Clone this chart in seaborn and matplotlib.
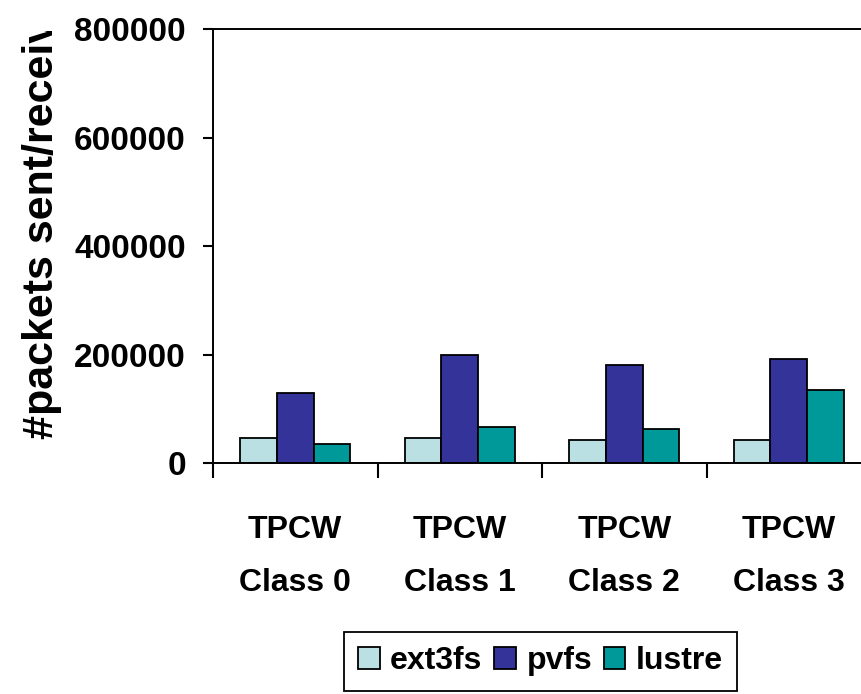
import matplotlib
matplotlib.use("Agg")
import matplotlib.pyplot as plt
from matplotlib.transforms import Bbox
import seaborn as sns
import pandas as pd

categories = ["TPCW\nClass 0", "TPCW\nClass 1", "TPCW\nClass 2", "TPCW\nClass 3"]
series_names = ["ext3fs", "pvfs", "lustre"]
ext3fs = [46000, 46000, 43500, 43500]
pvfs = [129000, 199000, 181500, 191500]
lustre = [35500, 66500, 62500, 135500]
yticks = [0, 200000, 400000, 600000, 800000]
ylabel = "#packets sent/received"
colors = ["#BBE0E3", "#333399", "#009999"]

rows = []
for name, vals in zip(series_names, [ext3fs, pvfs, lustre]):
    for c, v in zip(categories, vals):
        rows.append({"cls": c, "fs": name, "packets": v})
df = pd.DataFrame(rows)

sns.set_style("white")
plt.rcParams["font.family"] = ["Liberation Sans", "DejaVu Sans"]
plt.rcParams["font.weight"] = "bold"
plt.rcParams["text.color"] = "black"
plt.rcParams["xtick.color"] = "black"
plt.rcParams["ytick.color"] = "black"
plt.rcParams["axes.labelcolor"] = "black"

W, H = 861, 694
fig = plt.figure(figsize=(W / 100, H / 100), dpi=100)
left, right, bottom, top = 213, 871, 463.3, 29
ax = fig.add_axes([left / W, 1 - bottom / H, (right - left) / W, (bottom - top) / H])

sns.barplot(data=df, x="cls", y="packets", hue="fs", palette=colors,
            hue_order=series_names, order=categories, width=0.67, saturation=1,
            edgecolor="black", linewidth=1.3, ax=ax, errorbar=None)

ax.set_xlim(-0.5, 3.5)
ax.set_ylim(0, 800000)
ax.set_yticks(yticks)
ax.set_yticklabels([str(t) for t in yticks], fontsize=24, fontweight="bold", color="black")
ax.tick_params(axis="y", direction="out", length=7.5, width=1.5, pad=12, left=True, color="black")

ax.set_xticks(range(len(categories)))
ax.set_xticklabels(categories, fontsize=23, fontweight="bold", linespacing=2.0, color="black")
ax.tick_params(axis="x", which="major", length=0, pad=37)
ax.set_xticks([-0.5, 0.5, 1.5, 2.5, 3.5], minor=True)
ax.tick_params(axis="x", which="minor", direction="out", length=11, width=1.5, bottom=True, color="black")

for s in ["left", "bottom", "top", "right"]:
    ax.spines[s].set_visible(True)
    ax.spines[s].set_color("black")
    ax.spines[s].set_linewidth(1.4)

ax.set_xlabel("")
ax.set_ylabel(ylabel, fontsize=31, fontweight="bold", loc="bottom", color="black")
ax.yaxis.set_label_coords(-0.2295, 0.055)
lab = ax.yaxis.label
lab.set_clip_box(Bbox.from_extents(0, 0, W, H - 31))
lab.set_clip_on(True)

handles, labels = ax.get_legend_handles_labels()
if ax.get_legend() is not None:
    ax.get_legend().remove()
leg = fig.legend(handles, labels, loc="upper center", bbox_to_anchor=(540.5 / W, 1 - 632 / H),
                 bbox_transform=fig.transFigure, ncol=3, frameon=True,
                 fancybox=False, shadow=False, borderaxespad=0, handlelength=0.68,
                 handleheight=0.68, handletextpad=0.33, columnspacing=0.36, borderpad=0.45,
                 prop={"weight": "bold", "size": 23})
leg.get_frame().set_edgecolor("black")
leg.get_frame().set_linewidth(1.3)
leg.get_frame().set_alpha(1)

fig.savefig("out.png", dpi=100)
